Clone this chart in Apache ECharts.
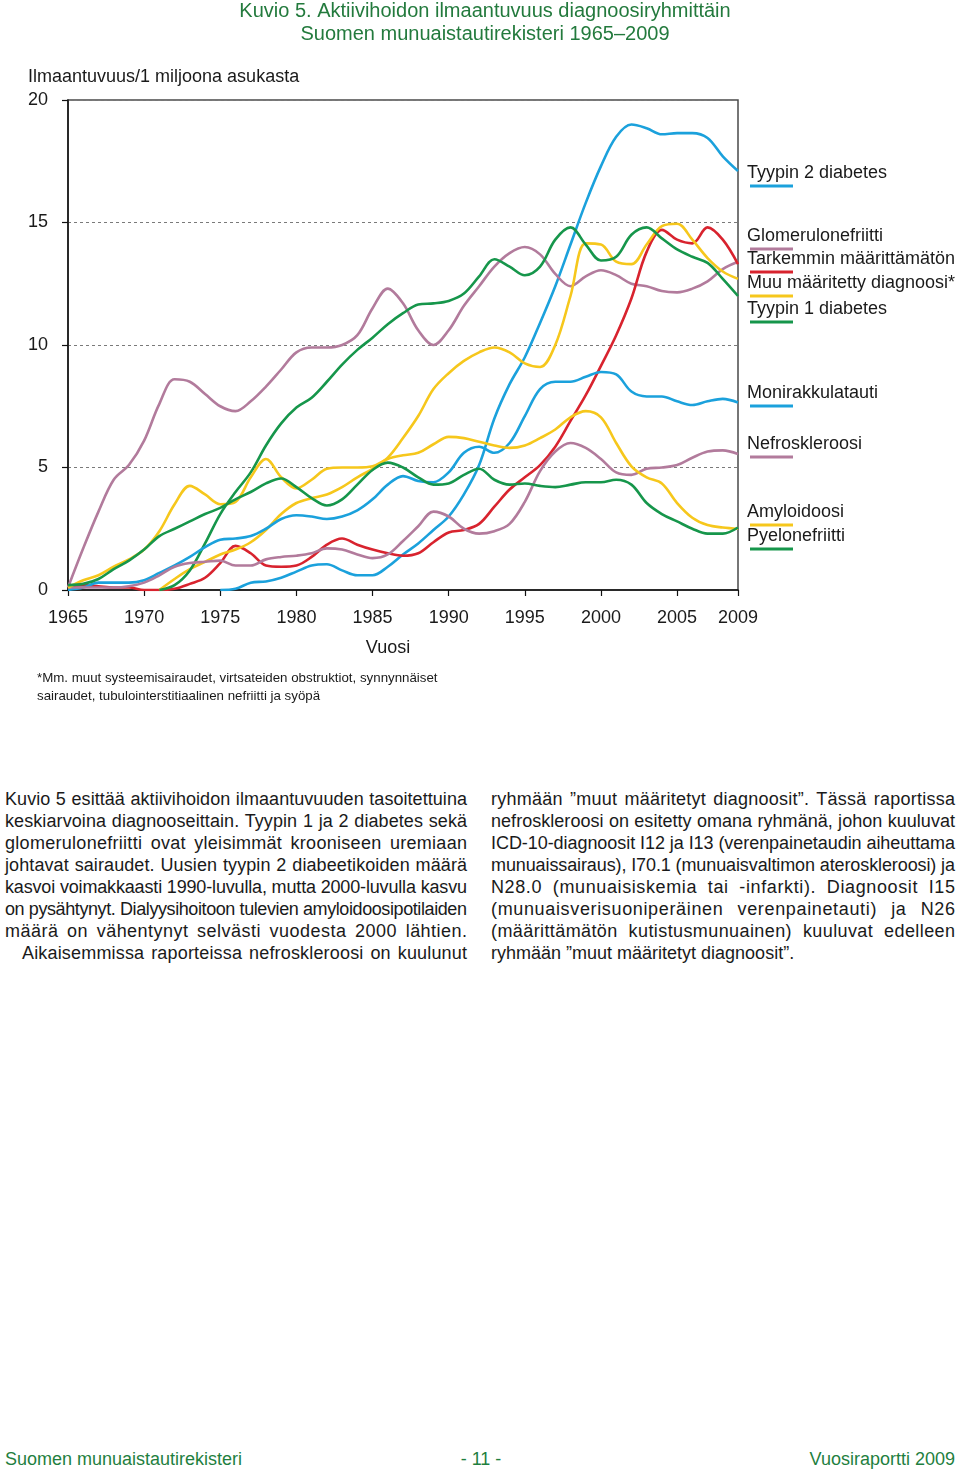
<!DOCTYPE html>
<html>
<head>
<meta charset="utf-8">
<script src="https://cdn.jsdelivr.net/npm/echarts@6/dist/echarts.min.js"></script>
<style>
html,body{margin:0;padding:0;background:#fff;width:960px;height:1474px;overflow:hidden;font-family:"Liberation Sans",Arial,sans-serif;color:#1a1a1a;}
#chart{position:absolute;left:0;top:0;width:960px;height:720px;}
.line{position:absolute;height:22px;line-height:22px;font-size:18px;white-space:nowrap;}
.footer{position:absolute;top:1448px;font-size:18px;line-height:22px;color:#1f7f3f;white-space:nowrap;}
</style>
</head>
<body>
<div id="chart"></div>
<div id="body"></div>
<div class="footer" style="left:5px;">Suomen munuaistautirekisteri</div>
<div class="footer" style="left:0;width:962px;text-align:center;">- 11 -</div>
<div class="footer" style="right:5px;">Vuosiraportti 2009</div>
<script>
// ---- Data ----
const years = [1965,1966,1967,1968,1969,1970,1971,1972,1973,1974,1975,1976,1977,1978,1979,1980,1981,1982,1983,1984,1985,1986,1987,1988,1989,1990,1991,1992,1993,1994,1995,1996,1997,1998,1999,2000,2001,2002,2003,2004,2005,2006,2007,2008,2009];

const tyyppi2 = [null,null,null,null,null,null,null,null,null,null,
  0.0,0.05,0.3,0.35,0.5,0.75,1.0,1.05,0.8,0.6,
  0.6,0.95,1.45,1.9,2.45,3.0,3.9,5.1,7.0,8.4,
  9.5,10.9,12.4,14.1,15.8,17.3,18.5,19.0,18.85,18.6,
  18.65,18.65,18.45,17.7,17.1];
const glomerulonefriitti = [0.1,1.7,3.2,4.5,5.1,6.1,7.6,8.6,8.5,8.0,
  7.5,7.3,7.7,8.3,9.0,9.7,9.9,9.9,10.0,10.4,
  11.5,12.3,11.7,10.6,10.0,10.6,11.6,12.4,13.2,13.75,
  14.0,13.7,12.9,12.4,12.8,13.05,12.85,12.5,12.4,12.2,
  12.15,12.3,12.6,13.1,13.4];
const tarkemmin = [0.1,0.2,0.15,0.1,0.1,0.0,0.0,0.05,0.25,0.5,
  1.1,1.8,1.5,1.0,0.95,1.0,1.35,1.85,2.1,1.85,
  1.65,1.5,1.4,1.5,1.95,2.35,2.45,2.7,3.4,4.1,
  4.6,5.1,5.85,6.9,7.95,9.15,10.4,11.9,13.8,14.7,
  14.3,14.15,14.8,14.3,13.3];
const muuMaaritetty = [null,null,null,null,null,null,
  0.0,0.45,0.85,1.15,1.45,1.65,1.95,2.45,3.1,3.55,
  3.75,3.9,4.2,4.6,4.95,5.4,6.2,7.1,8.2,8.85,
  9.35,9.7,9.9,9.7,9.25,9.1,10.0,12.0,14.15,14.1,
  13.4,13.3,14.1,14.85,14.95,14.3,13.55,13.0,12.7];
const tyyppi1 = [null,null,null,null,null,null,
  0.0,0.2,0.8,1.9,3.1,4.0,4.8,5.9,6.8,7.45,
  7.85,8.5,9.2,9.8,10.3,10.85,11.3,11.65,11.7,11.8,
  12.1,12.8,13.5,13.2,12.85,13.2,14.3,14.8,14.1,13.45,
  13.6,14.5,14.8,14.35,13.9,13.6,13.35,12.7,12.0];
const monirakkulatauti = [0.0,0.1,0.3,0.3,0.3,0.4,0.7,1.0,1.35,1.75,
  2.05,2.1,2.2,2.5,2.9,3.05,3.0,2.9,3.0,3.25,
  3.7,4.3,4.65,4.45,4.4,4.8,5.6,5.85,5.6,6.0,
  7.1,8.2,8.5,8.5,8.7,8.9,8.8,8.1,7.9,7.9,
  7.7,7.55,7.7,7.8,7.65];
const nefroskleroosi = [0.1,0.1,0.1,0.1,0.15,0.3,0.6,0.95,1.1,1.15,
  1.2,1.0,1.0,1.25,1.35,1.4,1.5,1.7,1.65,1.45,
  1.3,1.45,2.0,2.6,3.2,3.0,2.5,2.3,2.4,2.7,
  3.6,4.85,5.65,6.0,5.8,5.35,4.8,4.7,4.95,5.0,
  5.1,5.4,5.65,5.7,5.55];
const amyloidoosi = [0.1,0.4,0.6,0.95,1.25,1.65,2.4,3.5,4.25,3.9,
  3.5,3.6,4.6,5.35,4.6,4.15,4.5,4.95,5.0,5.0,
  5.05,5.35,5.5,5.6,5.95,6.25,6.2,6.05,5.9,5.8,
  5.9,6.2,6.55,7.05,7.3,7.05,6.0,5.05,4.6,4.35,
  3.55,2.95,2.65,2.55,2.5];
const pyelonefriitti = [0.2,0.25,0.45,0.85,1.2,1.65,2.2,2.5,2.8,3.1,
  3.35,3.7,4.0,4.35,4.55,4.2,3.75,3.45,3.7,4.3,
  4.9,5.2,5.0,4.6,4.3,4.35,4.7,4.95,4.5,4.3,
  4.35,4.25,4.2,4.3,4.4,4.4,4.5,4.3,3.55,3.1,
  2.8,2.5,2.3,2.3,2.55];

const seriesNames = ["Tyypin 2 diabetes","Glomerulonefriitti","Tarkemmin määrittämätön","Muu määritetty diagnoosi*","Tyypin 1 diabetes","Monirakkulatauti","Nefroskleroosi","Amyloidoosi","Pyelonefriitti"];
const seriesValues = [tyyppi2, glomerulonefriitti, tarkemmin, muuMaaritetty, tyyppi1, monirakkulatauti, nefroskleroosi, amyloidoosi, pyelonefriitti];
const xTickYears = [1965,1970,1975,1980,1985,1990,1995,2000,2005,2009];

// ---- Styles / layout ----
const BLUE='#1ba1dc', MAUVE='#b27b9c', RED='#d8232e', YELLOW='#f6c71c', GREEN='#16964b';
const seriesColors = [BLUE, MAUVE, RED, YELLOW, GREEN, BLUE, MAUVE, YELLOW, GREEN];
const legendY = [173, 236, 259, 283, 309, 393, 444, 512, 536];
const TXT='#1a1a1a';

const chart = echarts.init(document.getElementById('chart'), null, {renderer:'canvas'});

const series = seriesNames.map((name,i)=>({
  name: name,
  type:'line',
  data: years.map((y,k)=> seriesValues[i][k]==null ? null : [y, seriesValues[i][k]]).filter(d=>d),
  showSymbol:false,
  smooth:0.35,
  lineStyle:{color:seriesColors[i], width:2.6},
  itemStyle:{color:seriesColors[i]},
  z: 3
}));

const FONT = '"Liberation Sans", Arial, sans-serif';
function txt(x,y,text,size,fill,align){
  return {type:'text', x:x, y:y, style:{text:text, font:size+'px '+FONT, fill:fill, align:align, verticalAlign:'middle', textAlign:align, textVerticalAlign:'middle'}};
}
const graphic = [
  txt(485, 11, 'Kuvio 5. Aktiivihoidon ilmaantuvuus diagnoosiryhmittäin', 20, '#237a3d', 'center'),
  txt(485, 34, 'Suomen munuaistautirekisteri 1965–2009', 20, '#237a3d', 'center'),
  txt(28, 77, 'Ilmaantuvuus/1 miljoona asukasta', 18, TXT, 'left'),
  txt(388, 648, 'Vuosi', 18, TXT, 'center'),
  txt(37, 678, '*Mm. muut systeemisairaudet, virtsateiden obstruktiot, synnynnäiset', 13.3, TXT, 'left'),
  txt(37, 696, 'sairaudet, tubulointerstitiaalinen nefriitti ja syöpä', 13.3, TXT, 'left')
];
seriesNames.forEach((name,i)=>{
  graphic.push(txt(747, legendY[i], name, 18, TXT, 'left'));
  graphic.push({type:'line', shape:{x1:750, y1:legendY[i]+13, x2:793, y2:legendY[i]+13}, style:{stroke:seriesColors[i], lineWidth:3}});
});

chart.setOption({
  animation:false,
  backgroundColor:'#fff',
  grid:{left:68, top:100, width:670, height:490, show:true, borderColor:'#4a4a4a', borderWidth:1.5, backgroundColor:'transparent'},
  xAxis:{
    type:'value', min:1965, max:2009, interval:5,
    axisLine:{show:true, lineStyle:{color:'#111', width:1.5}},
    axisTick:{show:true, length:6, lineStyle:{color:'#111', width:1.2}},
    axisLabel:{fontSize:18, color:TXT, margin:19, fontFamily:FONT,
      formatter: v => xTickYears.indexOf(Math.round(v))>=0 ? String(Math.round(v)) : ''},
    splitLine:{show:false}
  },
  yAxis:{
    type:'value', min:0, max:20, interval:5,
    axisLine:{show:true, lineStyle:{color:'#111', width:1.5}},
    axisTick:{show:true, length:6, lineStyle:{color:'#111', width:1.2}},
    axisLabel:{fontSize:18, color:TXT, margin:20, fontFamily:FONT},
    splitLine:{show:true, lineStyle:{color:'#7a7a7a', width:1, type:[3,3]}}
  },
  graphic: graphic,
  series: series
});

// ---- Body text (justified line by line) ----
const leftLines = [
  "Kuvio 5 esittää aktiivihoidon ilmaantuvuuden tasoitettuina",
  "keskiarvoina diagnooseittain. Tyypin 1 ja 2 diabetes sekä",
  "glomerulonefriitti ovat yleisimmät krooniseen uremiaan",
  "johtavat sairaudet. Uusien tyypin 2 diabeetikoiden määrä",
  "kasvoi voimakkaasti 1990-luvulla, mutta 2000-luvulla kasvu",
  "on pysähtynyt. Dialyysihoitoon tulevien amyloidoosipotilaiden",
  "määrä on vähentynyt selvästi vuodesta 2000 lähtien.",
  "Aikaisemmissa raporteissa nefroskleroosi on kuulunut"
];
const rightLines = [
  "ryhmään ”muut määritetyt diagnoosit”. Tässä raportissa",
  "nefroskleroosi on esitetty omana ryhmänä, johon kuuluvat",
  "ICD-10-diagnoosit I12 ja I13 (verenpainetaudin aiheuttama",
  "munuaissairaus), I70.1 (munuaisvaltimon ateroskleroosi) ja",
  "N28.0 (munuaisiskemia tai -infarkti). Diagnoosit I15",
  "(munuaisverisuoniperäinen verenpainetauti) ja N26",
  "(määrittämätön kutistusmunuainen) kuuluvat edelleen",
  "ryhmään ”muut määritetyt diagnoosit”."
];
const bodyEl = document.getElementById('body');
function addLine(text, left, right, top, justify){
  const d = document.createElement('div');
  d.className='line';
  d.style.left = left+'px';
  d.style.top = top+'px';
  const s = document.createElement('span');
  s.textContent = text;
  d.appendChild(s);
  bodyEl.appendChild(d);
  const W = right-left;
  const w = s.getBoundingClientRect().width;
  const spaces = (text.match(/ /g)||[]).length;
  const n = text.length;
  if (w > W) {
    s.style.letterSpacing = ((W-w)/(n-1)).toFixed(3)+'px';
  } else if (justify && spaces>0) {
    const extra = W-w;
    s.style.letterSpacing = (extra*0.55/(n-1)).toFixed(3)+'px';
    s.style.wordSpacing = (extra*0.45/spaces).toFixed(3)+'px';
  }
}
leftLines.forEach((t,i)=> addLine(t, i===7?22:5, 467, 788+22*i, true));
rightLines.forEach((t,i)=> addLine(t, 491, 955, 788+22*i, i!==7));
</script>
</body>
</html>
